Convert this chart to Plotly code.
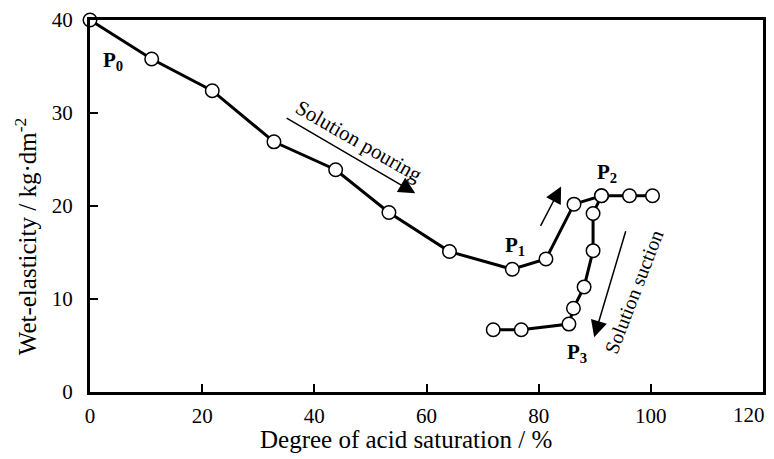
import plotly.graph_objects as go

# Solution pouring branch (P0 -> P1 -> P2)
pour_x = [0, 11.0, 21.8, 32.8, 43.8, 53.3, 64.1, 75.3, 81.3, 86.3, 91.2, 96.2, 100.3]
pour_y = [40, 35.8, 32.4, 26.9, 23.9, 19.3, 15.1, 13.2, 14.3, 20.2, 21.1, 21.1, 21.1]

# Solution suction branch (P2 -> P3)
suck_x = [91.2, 89.7, 89.7, 88.1, 86.2, 85.4, 76.9, 71.9]
suck_y = [21.1, 19.2, 15.2, 11.3, 9.0, 7.3, 6.7, 6.7]

x_ticks = [0, 20, 40, 60, 80, 100, 120]
x_tick_text = ["0", "20", "40", "60", "80", "100", ""]  # last one drawn separately (edge)
y_ticks = [0, 10, 20, 30, 40]

FONT = "Liberation Serif"

fig = go.Figure()
for xs, ys in [(pour_x, pour_y), (suck_x, suck_y)]:
    fig.add_trace(go.Scatter(x=xs, y=ys, mode="lines",
                             line=dict(color="black", width=3),
                             hoverinfo="skip", showlegend=False))
for xs, ys in [(pour_x, pour_y), (suck_x, suck_y)]:
    fig.add_trace(go.Scatter(x=xs, y=ys, mode="markers",
                             marker=dict(symbol="circle", size=13.5, color="white",
                                         line=dict(color="black", width=1.5)),
                             cliponaxis=False, showlegend=False))

annos = []
# point labels
for txt, x, y in [("0", 4.1, 35.6), ("1", 75.8, 15.7), ("2", 92.1, 23.5), ("3", 86.8, 4.2)]:
    annos.append(dict(x=x, y=y, xref="x", yref="y", showarrow=False,
                      text=f"<b>P<sub>{txt}</sub></b>",
                      font=dict(family=FONT, size=21, color="black")))
# arrows
for (x0, y0, x1, y1) in [(34.8, 29.55, 58.0, 21.37), (80.2, 17.7, 84.0, 22.1), (95.6, 17.45, 89.9, 5.9)]:
    annos.append(dict(x=x1, y=y1, ax=x0, ay=y0, xref="x", yref="y", axref="x", ayref="y",
                      showarrow=True, arrowhead=2, arrowsize=2.2, arrowwidth=1.5,
                      arrowcolor="black", text=""))
annos.append(dict(x=47.9, y=27.0, xref="x", yref="y", showarrow=False,
                  text="Solution pouring", textangle=30,
                  font=dict(family=FONT, size=21, color="black")))
annos.append(dict(x=96.9, y=10.8, xref="x", yref="y", showarrow=False,
                  text="Solution suction", textangle=-69,
                  font=dict(family=FONT, size=20, color="black")))
# last x tick label at the right edge
annos.append(dict(x=1.006, y=-0.0627, xref="paper", yref="paper", showarrow=False,
                  text="120", xanchor="right", yanchor="middle",
                  font=dict(family=FONT, size=21, color="black")))
# axis titles
annos.append(dict(x=0.469, y=-0.128, xref="paper", yref="paper", showarrow=False,
                  text="Degree of acid saturation / %", yanchor="middle",
                  font=dict(family=FONT, size=25, color="black")))
annos.append(dict(x=-0.095, y=0.419, xref="paper", yref="paper", showarrow=False,
                  text="Wet-elasticity / kg·dm<sup>-2</sup>", textangle=-90,
                  xanchor="center", yanchor="middle",
                  font=dict(family=FONT, size=25, color="black")))

fig.update_layout(
    width=774, height=459,
    margin=dict(l=90, r=8, t=17, b=67),
    paper_bgcolor="white", plot_bgcolor="white",
    font=dict(family=FONT, size=21, color="black"),
    annotations=annos,
)
fig.update_xaxes(range=[0, 120], tickvals=x_ticks, ticktext=x_tick_text,
                 showgrid=False, zeroline=False,
                 showline=True, linecolor="black", linewidth=3, mirror=True,
                 ticks="inside", ticklen=8, tickwidth=2, tickcolor="black",
                 ticklabelstandoff=3,
                 tickfont=dict(family=FONT, size=21))
fig.update_yaxes(range=[0, 40], tickvals=y_ticks, showgrid=False, zeroline=False,
                 showline=True, linecolor="black", linewidth=3, mirror=True,
                 ticks="inside", ticklen=8, tickwidth=2, tickcolor="black",
                 ticklabelstandoff=10,
                 tickfont=dict(family=FONT, size=21))

fig.write_html("out.html")
